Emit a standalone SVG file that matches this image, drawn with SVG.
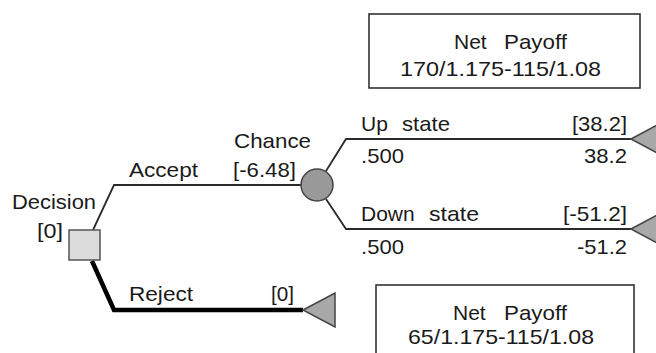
<svg xmlns="http://www.w3.org/2000/svg" width="656" height="353" viewBox="0 0 656 353">
<style>
text{font-family:"Liberation Sans",Arial,Helvetica,sans-serif;font-size:21px;fill:#1a1a1a}
.edge{fill:none;stroke:#2a2a2a;stroke-width:1.8;stroke-linejoin:miter}
.best{fill:none;stroke:#000;stroke-width:4.5;stroke-linejoin:miter}
.term{fill:#a8a8a8;stroke:#444;stroke-width:1.5}
.box{fill:#fff;stroke:#333;stroke-width:1.6}
</style>
<rect width="656" height="353" fill="#fff"/>
<g id="connectors">
<polyline class="edge" points="93,230 114,185 301,185"/>
<polyline class="best" points="92,261 114,310 303,310"/>
<polyline class="edge" points="326,171 346,139 631,139"/>
<polyline class="edge" points="326,199 346,229 631,229"/>
</g>
<g id="decision">
<rect x="69" y="230" width="31" height="30" fill="#dcdcdc" stroke="#555" stroke-width="1.5"/>
<text x="12" y="209" textLength="84" lengthAdjust="spacingAndGlyphs">Decision</text>
<text x="37" y="238" textLength="26" lengthAdjust="spacingAndGlyphs">[0]</text>
</g>
<g id="accept-label">
<text x="129" y="177" textLength="69" lengthAdjust="spacingAndGlyphs">Accept</text>
</g>
<g id="reject-label">
<text x="129" y="301" textLength="64" lengthAdjust="spacingAndGlyphs">Reject</text>
<text x="271" y="301" textLength="23" lengthAdjust="spacingAndGlyphs">[0]</text>
</g>
<g id="chance">
<circle cx="317" cy="185" r="16" fill="#999" stroke="#444" stroke-width="1.5"/>
<text x="234" y="148" textLength="77" lengthAdjust="spacingAndGlyphs">Chance</text>
<text x="233" y="177" textLength="63" lengthAdjust="spacingAndGlyphs">[-6.48]</text>
</g>
<g id="up-state">
<polygon class="term" points="631,139 663,122 663,156"/>
<text y="131"><tspan x="361">Up </tspan><tspan x="402" textLength="48" lengthAdjust="spacingAndGlyphs">state</tspan></text>
<text x="572" y="131" textLength="55" lengthAdjust="spacingAndGlyphs">[38.2]</text>
<text x="361" y="163" textLength="43" lengthAdjust="spacingAndGlyphs">.500</text>
<text x="584" y="163" textLength="43" lengthAdjust="spacingAndGlyphs">38.2</text>
</g>
<g id="down-state">
<polygon class="term" points="631,229 663,212 663,246"/>
<text y="221"><tspan x="361">Down </tspan><tspan x="429" textLength="50" lengthAdjust="spacingAndGlyphs">state</tspan></text>
<text x="563" y="221" textLength="64" lengthAdjust="spacingAndGlyphs">[-51.2]</text>
<text x="361" y="254" textLength="43" lengthAdjust="spacingAndGlyphs">.500</text>
<text x="577" y="254" textLength="50" lengthAdjust="spacingAndGlyphs">-51.2</text>
</g>
<g id="reject-end">
<polygon class="term" points="303,310 335,293 335,327"/>
</g>
<g id="payoff-top">
<rect class="box" x="369" y="14" width="271" height="74"/>
<text y="49"><tspan x="454">Net </tspan><tspan x="504" textLength="63" lengthAdjust="spacingAndGlyphs">Payoff</tspan></text>
<text x="400" y="76" textLength="201" lengthAdjust="spacingAndGlyphs">170/1.175-115/1.08</text>
</g>
<g id="payoff-bottom">
<rect class="box" x="376" y="285" width="258" height="80"/>
<text y="320"><tspan x="453">Net </tspan><tspan x="504" textLength="63" lengthAdjust="spacingAndGlyphs">Payoff</tspan></text>
<text x="408" y="344" textLength="186" lengthAdjust="spacingAndGlyphs">65/1.175-115/1.08</text>
</g>
</svg>
